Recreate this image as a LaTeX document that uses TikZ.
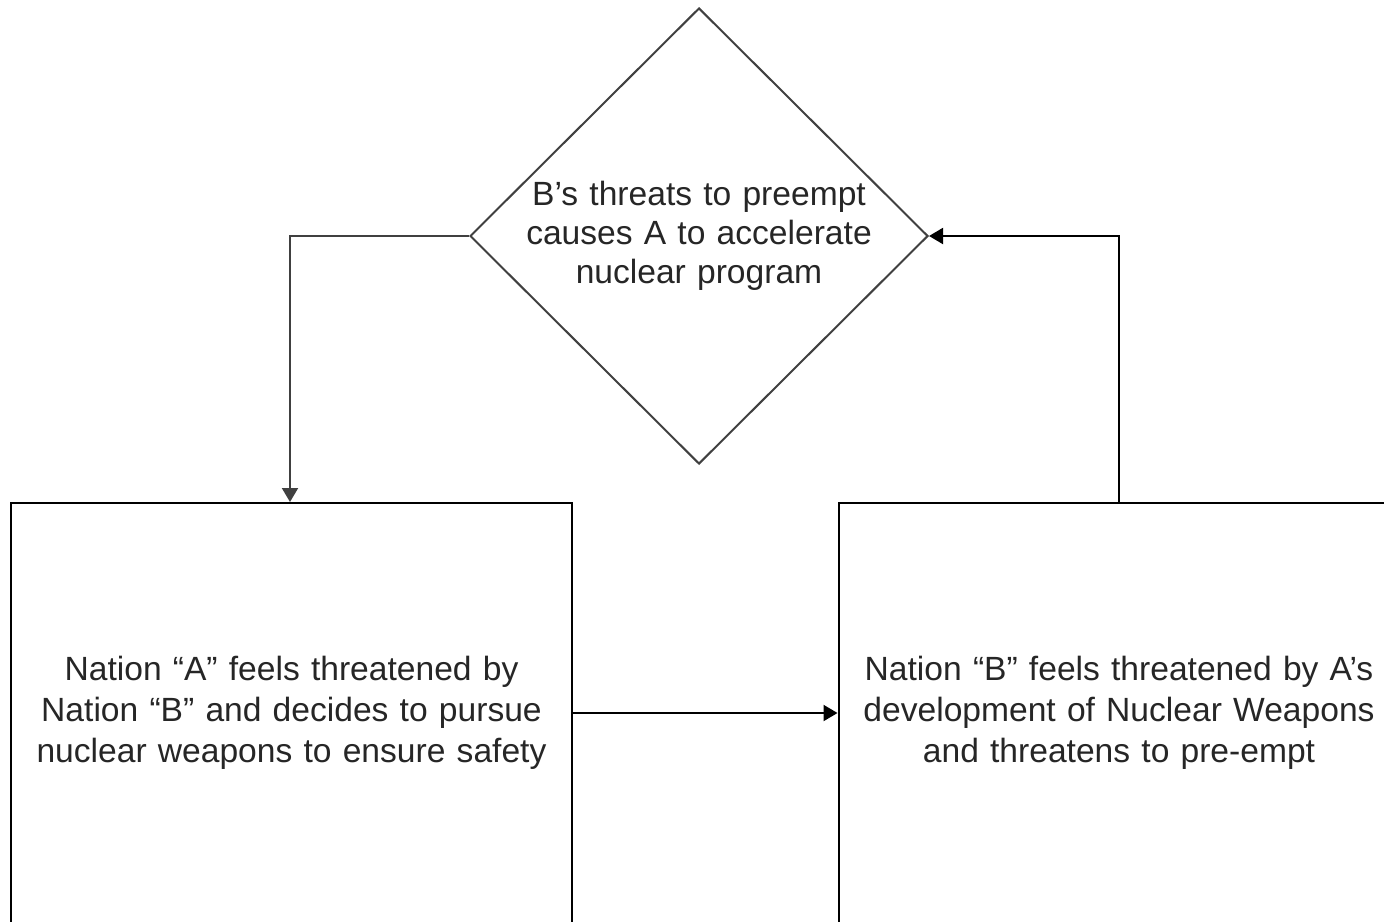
\documentclass[tikz,border=0pt]{standalone}
\usepackage{fontspec}
\setmainfont{Liberation Sans}
\usetikzlibrary{shapes.geometric,arrows.meta}
\begin{document}
\begin{tikzpicture}[x=0.5pt,y=-0.5pt,
  box/.style={draw=black,line width=1pt,rectangle,minimum width=280.5pt,minimum height=210pt,inner sep=0pt,text width=270pt,align=center,font=\fontsize{16.8}{20.5}\selectfont,text=black!85},
  dec/.style={draw=black!75,line width=1pt,diamond,minimum width=229pt,minimum height=228pt,inner sep=-15pt,text width=190pt,align=center,font=\fontsize{16.8}{19.5}\selectfont,text=black!85},
  conn/.style={line width=1pt,-{Triangle[length=7pt,width=8pt]}},
  conng/.style={conn,draw=black!75}]
\useasboundingbox (0,0) rectangle (1384,921);
\clip (0,0) rectangle (1384,921);
\node[box] (A) at (291.5,713) {Nation “A” feels threatened by\\Nation “B” and decides to pursue\\nuclear weapons to ensure safety};
\node[box] (B) at (1119,713) {Nation “B” feels threatened by A’s\\development of Nuclear Weapons\\and threatens to pre-empt};
\node[dec] (D) at (699,236) {B’s threats to preempt\\causes A to accelerate\\nuclear program};
\draw[conn] (A.east) -- (B.west);
\draw[conn] (B.north) |- (D.east);
\draw[conng] (D.west) -| (A.north -| 290,0);
\end{tikzpicture}
\end{document}
